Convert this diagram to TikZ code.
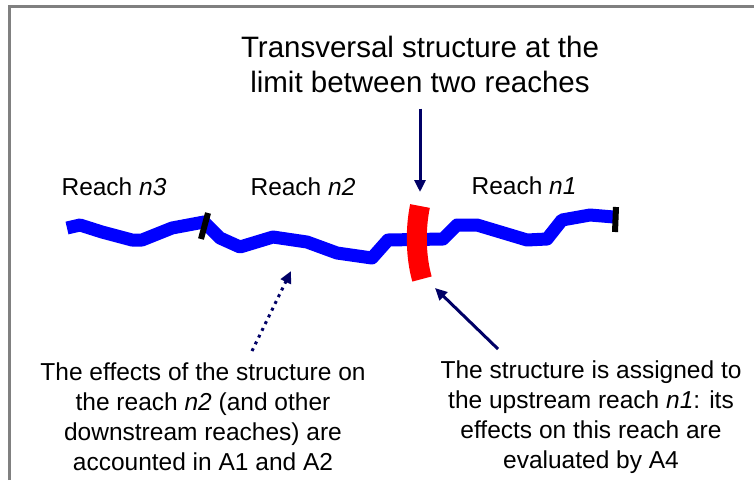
\documentclass[tikz,border=0pt]{standalone}
\usepackage{fontspec}
\setmainfont{Liberation Sans}
\usetikzlibrary{arrows.meta}
\definecolor{navy}{RGB}{0,0,102}
\tikzset{
  river/.style={draw=blue, line width=13pt, line join=round},
  limit/.style={draw=black, line width=6pt},
  pointer/.style={draw=navy, line width=3pt, -{Triangle[length=12pt,width=11pt]}},
  label/.style={font=\fontsize{24.5}{30}\selectfont, align=center, inner sep=0pt},
}
\begin{document}
\begin{tikzpicture}[x={(1pt,0)}, y={(0,-1pt)}]
    \useasboundingbox (0,0) rectangle (754,480);
    \draw[gray, line width=3pt] (9.5,480) -- (9.5,6) -- (754,6);

    % Rio
    \draw[river] (67,228) -- (80,225) -- (102,232) -- (132,240) -- (142,240) -- (172,228) -- (204,222)
        -- (220,238) -- (240,247) -- (273,237) -- (307,242) -- (337,253) -- (372,258) -- (388,240)
        -- (443,239) -- (457,225) -- (477,225) -- (527,240) -- (547,239) -- (562,220)
        -- (590,215) -- (614,217);
    \draw[limit] (208,213) -- (201,239);
    \draw[limit] (616,207) -- (615,232);

    % Estrutura
    \draw[red, line width=20pt] (420,206) .. controls (415,230) and (416,258) .. (422,279);
    \coordinate (strtop) at (420,192);
    \coordinate (strfoot) at (435,288);
    \coordinate (reachpt) at (291,271);

    \node[label] (reachthree) at (114,187) {Reach \textit{n3}};
    \node[label] (reachtwo) at (303,187) {Reach \textit{n2}};
    \node[label] (reachone) at (524,186) {Reach \textit{n1}};

    \node[label, font=\fontsize{29.5}{35}\selectfont] (title) at (420,64)
        {Transversal structure at the\\limit between two reaches};
    \node[label] (effects) at (203,417)
        {The effects of the structure on\\the reach \textit{n2} (and other\\downstream reaches) are\\accounted in A1 and A2};
    \node[label] (assigned) at (591,417)
        {The structure is assigned to\\the upstream reach \textit{n1}: its\\effects on this reach are\\evaluated by A4};
    \coordinate (efftail) at (252,351);
    \coordinate (asstail) at (498,349);

    % Setas
    \draw[pointer] (title.south) ++(0,16) -- (strtop);
    \draw[pointer, dash pattern=on 3pt off 4.5pt] (efftail) -- (reachpt);
    \draw[pointer] (asstail) -- (strfoot);
\end{tikzpicture}
\end{document}
